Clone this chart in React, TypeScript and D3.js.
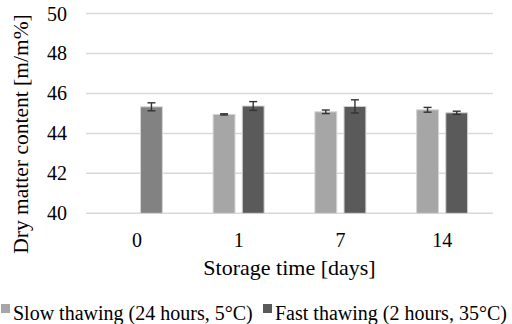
import { useEffect, useRef } from 'react'
import * as d3 from 'd3'

// Storage days (categories)
const days = ['0', '1', '7', '14']
// Dry matter content means [m/m%]; null where no bar
const control = [45.33, null, null, null]
const slowThawing = [null, 44.95, 45.08, 45.18]
const fastThawing = [null, 45.37, 45.35, 45.03]
// Standard deviations (error bars)
const controlErr = [0.2, null, null, null]
const slowErr = [null, 0.03, 0.09, 0.12]
const fastErr = [null, 0.22, 0.33, 0.08]
const yTicks = [40, 42, 44, 46, 48, 50]
const legendLabels = ['Slow thawing (24 hours, 5°C)', 'Fast thawing (2 hours, 35°C)']

export default function App() {
  const svgRef = useRef<SVGSVGElement>(null)

  useEffect(() => {
    if (!svgRef.current) return
    const svg = d3.select(svgRef.current)
    svg.selectAll('*').remove()

    const width = 512
    const height = 324
    const font = '"Liberation Serif", "Times New Roman", serif'
    const plot = { left: 86, right: 493, top: 13.5, bottom: 213.3 }

    svg.attr('width', width).attr('height', height)

    const x = d3.scaleBand().domain(days).range([plot.left, plot.right]).padding(0)
    const y = d3.scaleLinear().domain([40, 50]).range([plot.bottom, plot.top])
    const mid = x.bandwidth() / 2
    const sub = d3.scaleBand()
      .domain(['slow', 'fast'])
      .range([mid - 25.5, mid + 25.5])
      .paddingInner(0.25)

    // Gridlines
    svg.append('g')
      .selectAll('line')
      .data(yTicks)
      .enter().append('line')
      .attr('x1', plot.left)
      .attr('x2', plot.right)
      .attr('y1', d => y(d))
      .attr('y2', d => y(d))
      .style('stroke', '#d9d9d9')
      .style('stroke-width', 1.5)

    // Y tick labels
    svg.append('g')
      .selectAll('text')
      .data(yTicks)
      .enter().append('text')
      .attr('x', 67)
      .attr('y', d => y(d))
      .attr('dy', '0.35em')
      .attr('text-anchor', 'end')
      .style('font-family', font)
      .style('font-size', '20px')
      .style('fill', '#000')
      .text(d => d)

    const series = [
      { values: control, errs: controlErr, key: 'fast', color: '#828282' },
      { values: slowThawing, errs: slowErr, key: 'slow', color: '#a6a6a6' },
      { values: fastThawing, errs: fastErr, key: 'fast', color: '#5a5a5a' }
    ]

    series.forEach(s => {
      const pts = days
        .map((d, i) => ({ day: d, v: s.values[i], e: s.errs[i] }))
        .filter(p => p.v != null) as { day: string; v: number; e: number }[]
      const bx = (p: { day: string }) => (x(p.day) as number) + (sub(s.key) as number)
      const g = svg.append('g')

      g.selectAll('rect')
        .data(pts)
        .enter().append('rect')
        .attr('x', d => bx(d))
        .attr('y', d => y(d.v))
        .attr('width', sub.bandwidth())
        .attr('height', d => y(40) - y(d.v))
        .style('fill', s.color)
        .style('stroke', '#d4d4d4')
        .style('stroke-width', 1)

      // Error bars
      pts.forEach(p => {
        const cx = bx(p) + sub.bandwidth() / 2
        const eg = g.append('g').style('stroke', '#333').style('stroke-width', 1.4)
        eg.append('line').attr('x1', cx).attr('x2', cx).attr('y1', y(p.v + p.e)).attr('y2', y(p.v - p.e))
        eg.append('line').attr('x1', cx - 4).attr('x2', cx + 4).attr('y1', y(p.v + p.e)).attr('y2', y(p.v + p.e))
        eg.append('line').attr('x1', cx - 4).attr('x2', cx + 4).attr('y1', y(p.v - p.e)).attr('y2', y(p.v - p.e))
      })
    })

    // X tick labels
    svg.append('g')
      .selectAll('text')
      .data(days)
      .enter().append('text')
      .attr('x', d => (x(d) as number) + mid)
      .attr('y', 247)
      .attr('text-anchor', 'middle')
      .style('font-family', font)
      .style('font-size', '20px')
      .text(d => d)

    // Axis titles
    svg.append('text')
      .attr('x', (plot.left + plot.right) / 2)
      .attr('y', 275)
      .attr('text-anchor', 'middle')
      .style('font-family', font)
      .style('font-size', '22px')
      .text('Storage time [days]')

    svg.append('text')
      .attr('transform', 'translate(28,134) rotate(-90)')
      .attr('text-anchor', 'middle')
      .style('font-family', font)
      .style('font-size', '21.5px')
      .text('Dry matter content [m/m%]')

    // Legend
    const legendX = [1, 263]
    const legendColors = ['#a6a6a6', '#5a5a5a']
    const legend = svg.append('g')
    legendLabels.forEach((label, i) => {
      legend.append('rect')
        .attr('x', legendX[i])
        .attr('y', 304)
        .attr('width', 9)
        .attr('height', 9)
        .style('fill', legendColors[i])
      legend.append('text')
        .attr('x', legendX[i] + 12)
        .attr('y', 320)
        .style('font-family', font)
        .style('font-size', '20px')
        .text(label)
    })
  }, [])

  return (
    <div style={{ position: 'fixed', left: 0, top: 0, width: 512, height: 324, background: '#fff' }}>
      <svg ref={svgRef} style={{ display: 'block' }}></svg>
    </div>
  )
}
